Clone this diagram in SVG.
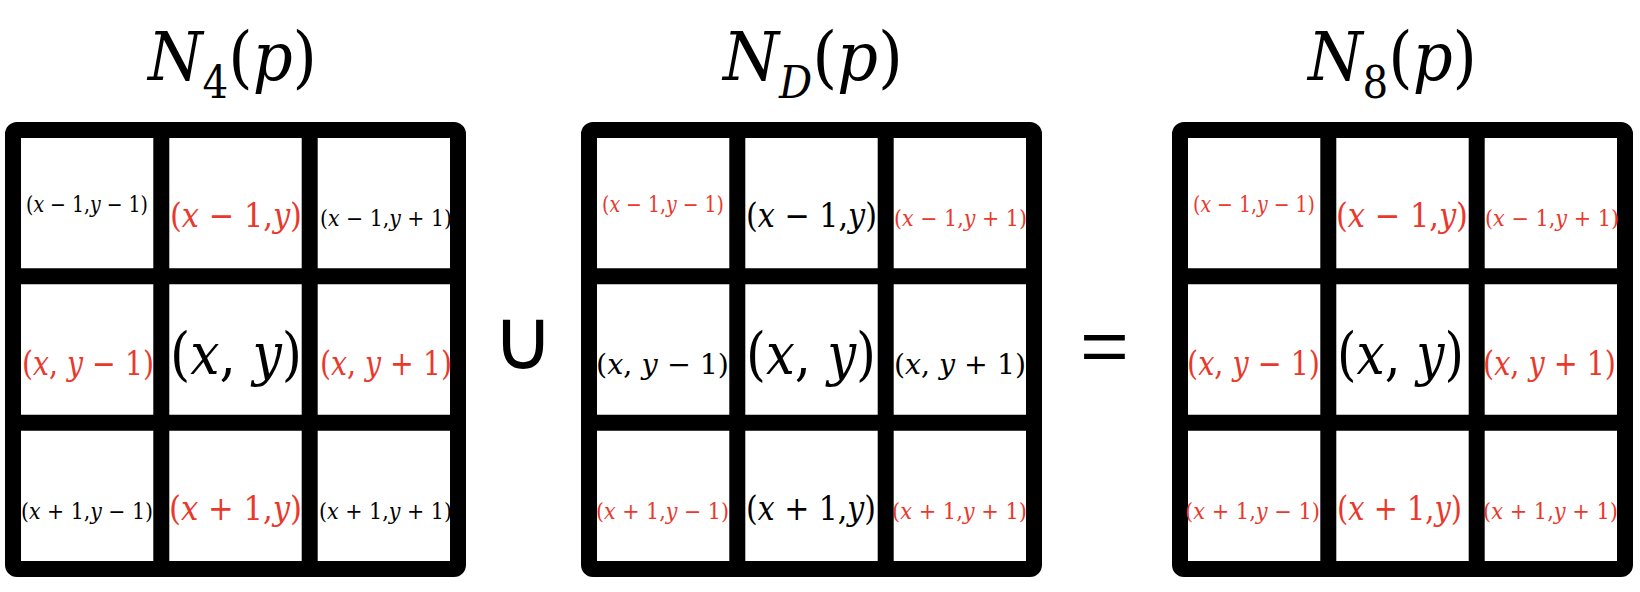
<svg xmlns="http://www.w3.org/2000/svg" width="1640" height="592" viewBox="0 0 1640 592">
<style>
.tx{font-family:"DejaVu Serif Condensed","DejaVu Serif",serif;font-stretch:condensed;fill:#000}
.r{fill:#e8392c}
.i{font-style:italic}
.t{font-size:68px}
.s{font-size:22px}
.m{font-size:33px}
.l{font-size:58px}
.op{font-family:"Liberation Sans","DejaVu Sans",sans-serif;fill:#000}
.frame{fill:none;stroke:#000;stroke-width:16;stroke-linejoin:round}
.bar{stroke:#000;stroke-width:16}
</style>
<defs>
<g id="grid">
<rect class="frame" x="8" y="130" width="445" height="439" rx="4"/>
<line class="bar" x1="156.3" y1="122" x2="156.3" y2="577"/>
<line class="bar" x1="304.7" y1="122" x2="304.7" y2="577"/>
<line class="bar" x1="0" y1="276.3" x2="461" y2="276.3"/>
<line class="bar" x1="0" y1="422.7" x2="461" y2="422.7"/>
</g>
</defs>

<g id="n4" class="tx">
<text class="t" x="148" y="80" textLength="169" lengthAdjust="spacingAndGlyphs"><tspan class="i">N</tspan><tspan font-size="44" dy="18">4</tspan><tspan dy="-18">(</tspan><tspan class="i">p</tspan>)</text>
<use href="#grid" x="5" y="0"/>
<g transform="translate(5,0)">
<text class="s" x="21" y="212" textLength="122" lengthAdjust="spacingAndGlyphs">(<tspan class="i">x</tspan> − 1,<tspan class="i">y</tspan> − 1)</text>
<text class="m r" x="165" y="227" textLength="132" lengthAdjust="spacingAndGlyphs">(<tspan class="i">x</tspan> − 1,<tspan class="i">y</tspan>)</text>
<text class="s" x="315" y="226" textLength="132" lengthAdjust="spacingAndGlyphs">(<tspan class="i">x</tspan> − 1,<tspan class="i">y</tspan> + 1)</text>
<text class="m r" x="17" y="375" textLength="132" lengthAdjust="spacingAndGlyphs">(<tspan class="i">x</tspan>, <tspan class="i">y</tspan> − 1)</text>
<text class="l" x="165" y="374" textLength="132" lengthAdjust="spacingAndGlyphs">(<tspan class="i">x</tspan>, <tspan class="i">y</tspan>)</text>
<text class="m r" x="315" y="375" textLength="132" lengthAdjust="spacingAndGlyphs">(<tspan class="i">x</tspan>, <tspan class="i">y</tspan> + 1)</text>
<text class="s" x="16" y="519" textLength="132" lengthAdjust="spacingAndGlyphs">(<tspan class="i">x</tspan> + 1,<tspan class="i">y</tspan> − 1)</text>
<text class="m r" x="164" y="520" textLength="133" lengthAdjust="spacingAndGlyphs">(<tspan class="i">x</tspan> + 1,<tspan class="i">y</tspan>)</text>
<text class="s" x="314" y="519" textLength="133" lengthAdjust="spacingAndGlyphs">(<tspan class="i">x</tspan> + 1,<tspan class="i">y</tspan> + 1)</text>
</g>
</g>

<g id="union">
<text class="op" x="492" y="369" font-size="85">∪</text>
</g>

<g id="nd" class="tx">
<text class="t" x="723" y="80" textLength="180" lengthAdjust="spacingAndGlyphs"><tspan class="i">N</tspan><tspan class="i" font-size="44" dy="18">D</tspan><tspan dy="-18">(</tspan><tspan class="i">p</tspan>)</text>
<use href="#grid" x="581" y="0"/>
<g transform="translate(581,0)">
<text class="s r" x="21" y="212" textLength="122" lengthAdjust="spacingAndGlyphs">(<tspan class="i">x</tspan> − 1,<tspan class="i">y</tspan> − 1)</text>
<text class="m" x="165" y="227" textLength="131" lengthAdjust="spacingAndGlyphs">(<tspan class="i">x</tspan> − 1,<tspan class="i">y</tspan>)</text>
<text class="s r" x="313" y="226" textLength="133" lengthAdjust="spacingAndGlyphs">(<tspan class="i">x</tspan> − 1,<tspan class="i">y</tspan> + 1)</text>
<text x="15" y="374" font-size="28" textLength="133" lengthAdjust="spacingAndGlyphs">(<tspan class="i">x</tspan>, <tspan class="i">y</tspan> − 1)</text>
<text class="l" x="165" y="374" textLength="130" lengthAdjust="spacingAndGlyphs">(<tspan class="i">x</tspan>, <tspan class="i">y</tspan>)</text>
<text x="313" y="374" font-size="28" textLength="132" lengthAdjust="spacingAndGlyphs">(<tspan class="i">x</tspan>, <tspan class="i">y</tspan> + 1)</text>
<text class="s r" x="15" y="519" textLength="133" lengthAdjust="spacingAndGlyphs">(<tspan class="i">x</tspan> + 1,<tspan class="i">y</tspan> − 1)</text>
<text class="m" x="165" y="520" textLength="130" lengthAdjust="spacingAndGlyphs">(<tspan class="i">x</tspan> + 1,<tspan class="i">y</tspan>)</text>
<text class="s r" x="311" y="519" textLength="135" lengthAdjust="spacingAndGlyphs">(<tspan class="i">x</tspan> + 1,<tspan class="i">y</tspan> + 1)</text>
</g>
</g>

<g id="equals">
<text class="op" x="1080" y="371" font-size="75" textLength="49" lengthAdjust="spacingAndGlyphs">=</text>
</g>

<g id="n8" class="tx">
<text class="t" x="1308" y="80" textLength="169" lengthAdjust="spacingAndGlyphs"><tspan class="i">N</tspan><tspan font-size="44" dy="18">8</tspan><tspan dy="-18">(</tspan><tspan class="i">p</tspan>)</text>
<use href="#grid" x="1172" y="0"/>
<g transform="translate(1172,0)">
<text class="s r" x="21" y="212" textLength="122" lengthAdjust="spacingAndGlyphs">(<tspan class="i">x</tspan> − 1,<tspan class="i">y</tspan> − 1)</text>
<text class="m r" x="164" y="227" textLength="132" lengthAdjust="spacingAndGlyphs">(<tspan class="i">x</tspan> − 1,<tspan class="i">y</tspan>)</text>
<text class="s r" x="313" y="226" textLength="134" lengthAdjust="spacingAndGlyphs">(<tspan class="i">x</tspan> − 1,<tspan class="i">y</tspan> + 1)</text>
<text class="m r" x="15" y="375" textLength="133" lengthAdjust="spacingAndGlyphs">(<tspan class="i">x</tspan>, <tspan class="i">y</tspan> − 1)</text>
<text class="l" x="165" y="374" textLength="127" lengthAdjust="spacingAndGlyphs">(<tspan class="i">x</tspan>, <tspan class="i">y</tspan>)</text>
<text class="m r" x="311" y="375" textLength="133" lengthAdjust="spacingAndGlyphs">(<tspan class="i">x</tspan>, <tspan class="i">y</tspan> + 1)</text>
<text class="s r" x="13" y="519" textLength="135" lengthAdjust="spacingAndGlyphs">(<tspan class="i">x</tspan> + 1,<tspan class="i">y</tspan> − 1)</text>
<text class="m r" x="165" y="520" textLength="125" lengthAdjust="spacingAndGlyphs">(<tspan class="i">x</tspan> + 1,<tspan class="i">y</tspan>)</text>
<text class="s r" x="311" y="519" textLength="135" lengthAdjust="spacingAndGlyphs">(<tspan class="i">x</tspan> + 1,<tspan class="i">y</tspan> + 1)</text>
</g>
</g>
</svg>
